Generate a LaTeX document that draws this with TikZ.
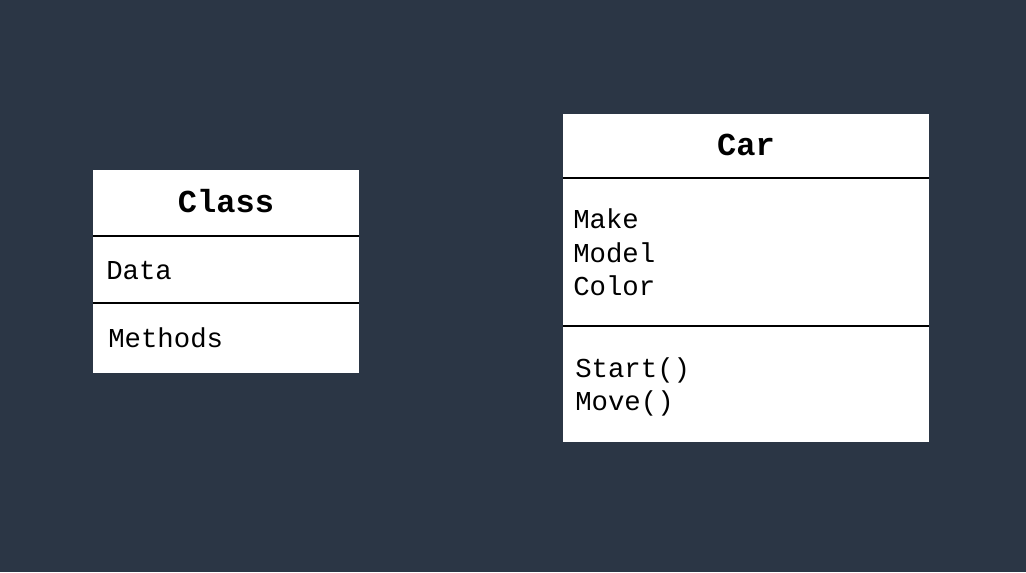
\documentclass[tikz,border=0pt]{standalone}
\usepackage{fontspec}
\setmonofont{Liberation Mono}
\definecolor{bg}{HTML}{2B3645}
\tikzset{
  box/.style={fill=white, draw=none, inner sep=0pt, outer sep=0pt},
  divider/.style={draw=black, line width=1.1pt},
  title/.style={font=\ttfamily\bfseries\fontsize{24}{28}\selectfont, text=black, inner sep=0pt},
  item/.style={font=\ttfamily\fontsize{20.5}{24}\selectfont, text=black, inner sep=0pt, anchor=base west},
}
\begin{document}
\begin{tikzpicture}[x=0.75pt,y=-0.75pt]
\fill[bg] (0,0) rectangle (1026,572);
\useasboundingbox (0,0) rectangle (1026,572);
% Class box
\node[box, minimum width=266*0.75pt, minimum height=203*0.75pt, anchor=north west] (classbox) at (93,170) {};
\coordinate (c1l) at (93,236); \coordinate (c1r) at (359,236);
\coordinate (c2l) at (93,303); \coordinate (c2r) at (359,303);
\draw[divider] (c1l) -- (c1r);
\draw[divider] (c2l) -- (c2r);
\node[title] (classtitle) at (226,201) {Class};
\node[item] (data) at (106,279) {Data};
\node[item] (methods) at (108,347) {Methods};
% Car box
\node[box, minimum width=366*0.75pt, minimum height=328*0.75pt, anchor=north west] (carbox) at (563,114) {};
\coordinate (d1l) at (563,178); \coordinate (d1r) at (929,178);
\coordinate (d2l) at (563,326); \coordinate (d2r) at (929,326);
\draw[divider] (d1l) -- (d1r);
\draw[divider] (d2l) -- (d2r);
\node[title] (cartitle) at (746,145) {Car};
\node[item] (make) at (573,228) {Make};
\node[item] (model) at (573,262) {Model};
\node[item] (color) at (573,295) {Color};
\node[item] (start) at (575,377) {Start()};
\node[item] (move) at (575,410) {Move()};
\end{tikzpicture}
\end{document}
